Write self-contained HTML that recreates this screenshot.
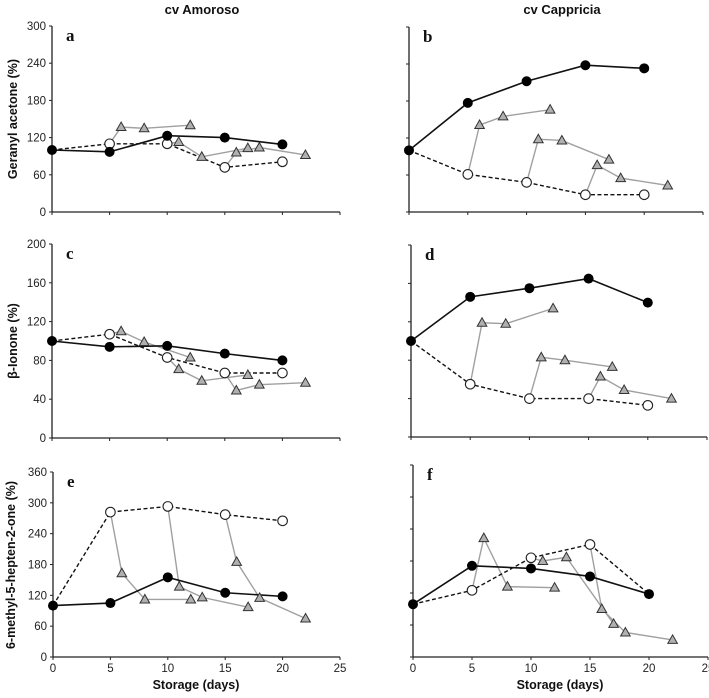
<!DOCTYPE html>
<html><head><meta charset="utf-8">
<style>
html,body{margin:0;padding:0;background:#fff;}
svg{display:block;font-family:"Liberation Sans",Arial,sans-serif;}
</style></head>
<body>
<svg id="chart" width="709" height="698" viewBox="0 0 709 698" xmlns="http://www.w3.org/2000/svg">
<text x="202" y="14" font-size="13" font-weight="bold" text-anchor="middle" fill="#111">cv Amoroso</text>
<text x="562" y="14" font-size="13" font-weight="bold" text-anchor="middle" fill="#111">cv Cappricia</text>
<text transform="translate(17,119) rotate(-90)" font-size="12.5" font-weight="bold" text-anchor="middle" fill="#111">Geranyl acetone (%)</text>
<text transform="translate(17,341) rotate(-90)" font-size="12.5" font-weight="bold" text-anchor="middle" fill="#111">β-Ionone (%)</text>
<text transform="translate(15,565) rotate(-90)" font-size="12.5" font-weight="bold" text-anchor="middle" fill="#111">6-methyl-5-hepten-2-one (%)</text>
<text x="196" y="689" font-size="12.5" font-weight="bold" text-anchor="middle" fill="#111">Storage (days)</text>
<text x="560" y="689" font-size="12.5" font-weight="bold" text-anchor="middle" fill="#111">Storage (days)</text>
</svg>
<script>
const xDays = [0, 5, 10, 15, 20];
const triX1 = [6, 8, 12], triX2 = [11, 13, 17], triX3 = [16, 18, 22];
// panel a
const aFilled = [100, 97, 123, 120, 109];
const aOpen = [100, 110, 110, 72, 81];
const aTri1 = [137, 135, 140], aTri2 = [113, 89, 103], aTri3 = [96, 104, 92];
// panel b
const bFilled = [100, 177, 212, 238, 233];
const bOpen = [100, 61, 48, 28, 28];
const bTri1 = [141, 155, 166], bTri2 = [118, 116, 85], bTri3 = [76, 55, 43];
// panel c
const cFilled = [100, 94, 95, 87, 80];
const cOpen = [100, 107, 83, 67, 67];
const cTri1 = [110, 99, 83], cTri2 = [71, 59, 65], cTri3 = [49, 55, 57];
// panel d
const dFilled = [100, 146, 155, 165, 140];
const dOpen = [100, 55, 40, 40, 33];
const dTri1 = [119, 118, 134], dTri2 = [83, 80, 73], dTri3 = [63, 49, 40];
// panel e
const eFilled = [100, 105, 155, 125, 118];
const eOpen = [100, 282, 293, 277, 265];
const eTri1 = [163, 112, 112], eTri2 = [137, 116, 97], eTri3 = [185, 115, 75];
// panel f
const fFilled = [99, 171, 166, 151, 118];
const fOpen = [99, 125, 186, 211, 118];
const fTri1 = [223, 132, 130], fTri2 = [180, 187, 62], fTri3 = [90, 46, 32];

const xTicks = [0, 5, 10, 15, 20, 25];
const yTicksA = [0, 60, 120, 180, 240, 300];
const yTicksC = [0, 40, 80, 120, 160, 200];
const yTicksE = [0, 60, 120, 180, 240, 300, 360];

const NS = "http://www.w3.org/2000/svg";
const svg = document.getElementById("chart");
function mk(tag, attrs, parent) {
  const e = document.createElementNS(NS, tag);
  for (const k in attrs) e.setAttribute(k, attrs[k]);
  (parent || svg).appendChild(e);
  return e;
}

const panels = [
  {id:"a", x0:52, x1:340, y0:212, y1:26, max:300, ticks:yTicksA, showY:true, showX:false, f:aFilled, o:aOpen, t:[aTri1,aTri2,aTri3], oEnd:false},
  {id:"b", x0:409, x1:703, y0:212, y1:27, max:300, ticks:yTicksA, showY:false, showX:false, f:bFilled, o:bOpen, t:[bTri1,bTri2,bTri3], oEnd:false},
  {id:"c", x0:52, x1:340, y0:438, y1:244, max:200, ticks:yTicksC, showY:true, showX:false, f:cFilled, o:cOpen, t:[cTri1,cTri2,cTri3], oEnd:false},
  {id:"d", x0:411, x1:707, y0:437, y1:245, max:200, ticks:yTicksC, showY:false, showX:false, f:dFilled, o:dOpen, t:[dTri1,dTri2,dTri3], oEnd:false},
  {id:"e", x0:53, x1:340, y0:657, y1:472, max:360, ticks:yTicksE, showY:true, showX:true, f:eFilled, o:eOpen, t:[eTri1,eTri2,eTri3], oEnd:false},
  {id:"f", x0:413, x1:708, y0:657, y1:465, max:360, ticks:yTicksE, showY:false, showX:true, f:fFilled, o:fOpen, t:[fTri1,fTri2,fTri3], oEnd:true}
];

panels.forEach(p => {
  const g = mk("g", {});
  
  
  const X = d => p.x0 + (p.x1 - p.x0) * d / 25;
  const Y = v => p.y0 - (p.y0 - p.y1) * v / p.max;
  // axes
  const ya = mk("line", {x1:p.x0, y1:p.y1, x2:p.x0, y2:p.y0, stroke:"#222", "stroke-width":1.3}, g);
  
  
  const xa = mk("line", {x1:p.x0, y1:p.y0, x2:p.x1, y2:p.y0, stroke:"#222", "stroke-width":1.3}, g);
  
  
  p.ticks.forEach(v => {
    mk("line", {x1:p.x0-3, y1:Y(v), x2:p.x0, y2:Y(v), stroke:"#222", "stroke-width":1}, g);
    if (p.showY) {
      const t = mk("text", {x:p.x0-6, y:Y(v)+4, "font-size":11.5, "text-anchor":"end", fill:"#222"}, g);
      t.textContent = v;
      
      
    }
  });
  xTicks.forEach(d => {
    mk("line", {x1:X(d), y1:p.y0, x2:X(d), y2:p.y0+3, stroke:"#222", "stroke-width":1}, g);
    if (p.showX) {
      const t = mk("text", {x:X(d), y:p.y0+15, "font-size":11.5, "text-anchor":"middle", fill:"#222"}, g);
      t.textContent = d;
      
      
    }
  });
  const lab = mk("text", {x:p.x0+14, y:p.y1+15, "font-size":17, "font-weight":"bold", "font-family":"Liberation Serif, serif", fill:"#111"}, g);
  lab.textContent = p.id;
  
  

  // triangle series (gray)
  const triXs = [triX1, triX2, triX3];
  p.t.forEach((vals, k) => {
    const startX = xDays[k+1], startY = p.o[k+1];
    let pts = [[X(startX), Y(startY)]];
    vals.forEach((v, i) => pts.push([X(triXs[k][i]), Y(v)]));
    const pl = mk("polyline", {points: pts.map(q => q.join(",")).join(" "), fill:"none", stroke:"#a0a0a0", "stroke-width":1.4}, g);
    
    
  });
  // open dashed
  const oPts = xDays.map((d, i) => X(d) + "," + Y(p.o[i])).join(" ");
  const ol = mk("polyline", {points:oPts, fill:"none", stroke:"#111", "stroke-width":1.4, "stroke-dasharray":"4,2.5"}, g);
  
  
  // filled solid
  const fPts = xDays.map((d, i) => X(d) + "," + Y(p.f[i])).join(" ");
  const fl = mk("polyline", {points:fPts, fill:"none", stroke:"#111", "stroke-width":1.6}, g);
  
  

  // markers
  p.t.forEach((vals, k) => {
    vals.forEach((v, i) => {
      const cx = X(triXs[k][i]), cy = Y(v);
      const tr = mk("polygon", {points:`${cx},${cy-5} ${cx-4.8},${cy+3.5} ${cx+4.8},${cy+3.5}`, fill:"#b0b0b0", stroke:"#333", "stroke-width":1}, g);
      
      
    });
  });
  xDays.forEach((d, i) => {
    if (i === 0) return;
    if (p.oEnd && i === xDays.length - 1) return;
    const c = mk("circle", {cx:X(d), cy:Y(p.o[i]), r:4.8, fill:"#fff", stroke:"#222", "stroke-width":1.1}, g);
    
    
  });
  xDays.forEach((d, i) => {
    const c = mk("circle", {cx:X(d), cy:Y(p.f[i]), r:5, fill:"#000"}, g);
    
    
  });
});
</script>
</body></html>
